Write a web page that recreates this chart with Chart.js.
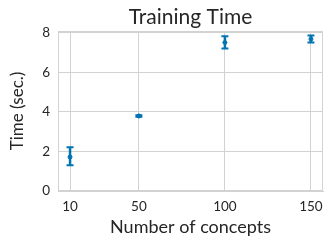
<!DOCTYPE html>
<html>
<head>
<meta charset="utf-8">
<script src="https://cdn.jsdelivr.net/npm/chart.js@4"></script>
<style>
html,body{margin:0;padding:0;background:#fff;}
#wrap{width:332px;height:247px;}
</style>
</head>
<body>
<div id="wrap"><canvas id="c" width="332" height="247"></canvas></div>
<script>
const concepts = [10, 50, 100, 150];
const meanTime = [1.72, 3.80, 7.52, 7.69];
const lowTime = [1.30, 3.76, 7.21, 7.52];
const highTime = [2.22, 3.84, 7.83, 7.87];
const xTicks = [10, 50, 100, 150];
const yTicks = [0, 2, 4, 6, 8];
const titleText = 'Training Time';

const BLUE = '#0173b2';
const GRID = '#d2d2d2';
const TEXT = '#262626';
const FONT = 'Lato, "DejaVu Sans", sans-serif';

const errorBars = {
  id: 'errorBars',
  afterDatasetsDraw(chart) {
    const {ctx, scales: {x, y}} = chart;
    ctx.save();
    ctx.strokeStyle = BLUE;
    ctx.lineCap = 'butt';
    concepts.forEach((c, i) => {
      const px = x.getPixelForValue(c);
      const pl = y.getPixelForValue(lowTime[i]);
      const ph = y.getPixelForValue(highTime[i]);
      ctx.lineWidth = 2.5;
      ctx.beginPath();
      ctx.moveTo(px, pl); ctx.lineTo(px, ph);
      ctx.stroke();
      ctx.lineWidth = 2;
      ctx.beginPath();
      ctx.moveTo(px - 3.5, pl); ctx.lineTo(px + 3.5, pl);
      ctx.moveTo(px - 3.5, ph); ctx.lineTo(px + 3.5, ph);
      ctx.stroke();
    });
    ctx.restore();
  }
};

const frameAndTitle = {
  id: 'frameAndTitle',
  afterDraw(chart) {
    const {ctx, chartArea: a} = chart;
    ctx.save();
    ctx.strokeStyle = GRID; ctx.lineWidth = 1;
    ctx.strokeRect(a.left + 0.5, a.top + 0.5, a.right - a.left - 1, a.bottom - a.top - 1);
    ctx.fillStyle = TEXT;
    ctx.font = '21px ' + FONT;
    ctx.textAlign = 'center';
    ctx.textBaseline = 'alphabetic';
    ctx.fillText(titleText, (a.left + a.right) / 2, 24);
    ctx.restore();
  }
};

new Chart(document.getElementById('c'), {
  type: 'scatter',
  data: {
    datasets: [{
      data: concepts.map((c, i) => ({x: c, y: meanTime[i]})),
      backgroundColor: BLUE,
      borderColor: BLUE,
      pointRadius: 2,
      pointHoverRadius: 2
    }]
  },
  plugins: [errorBars, frameAndTitle],
  options: {
    responsive: false,
    animation: false,
    layout: {padding: {left: 0, right: 9, top: 31, bottom: 0}},
    plugins: {
      legend: {display: false},
      tooltip: {enabled: false},
      title: {display: false}
    },
    scales: {
      x: {
        type: 'linear',
        min: 3, max: 157,
        afterBuildTicks: (s) => { s.ticks = xTicks.map(v => ({value: v})); },
        afterFit: (s) => { s.height = 56; },
        ticks: {color: TEXT, font: {family: FONT, size: 13.5}, padding: 8, maxRotation: 0, autoSkip: false},
        grid: {color: GRID, drawTicks: false, lineWidth: 1},
        border: {display: true, color: GRID, width: 1},
        title: {display: true, text: 'Number of concepts', color: TEXT, font: {family: FONT, size: 18}, padding: {top: 0, bottom: 9}}
      },
      y: {
        type: 'linear',
        min: 0, max: 8.1,
        afterBuildTicks: (s) => { s.ticks = yTicks.map(v => ({value: v})); },
        afterFit: (s) => { s.width = 58; },
        ticks: {color: TEXT, font: {family: FONT, size: 13.5}, padding: 8},
        grid: {color: GRID, drawTicks: false, lineWidth: 1},
        border: {display: true, color: GRID, width: 1},
        title: {display: true, text: 'Time (sec.)', color: TEXT, font: {family: FONT, size: 17}, padding: {top: 7, bottom: 0}}
      }
    }
  }
});
</script>
</body>
</html>
